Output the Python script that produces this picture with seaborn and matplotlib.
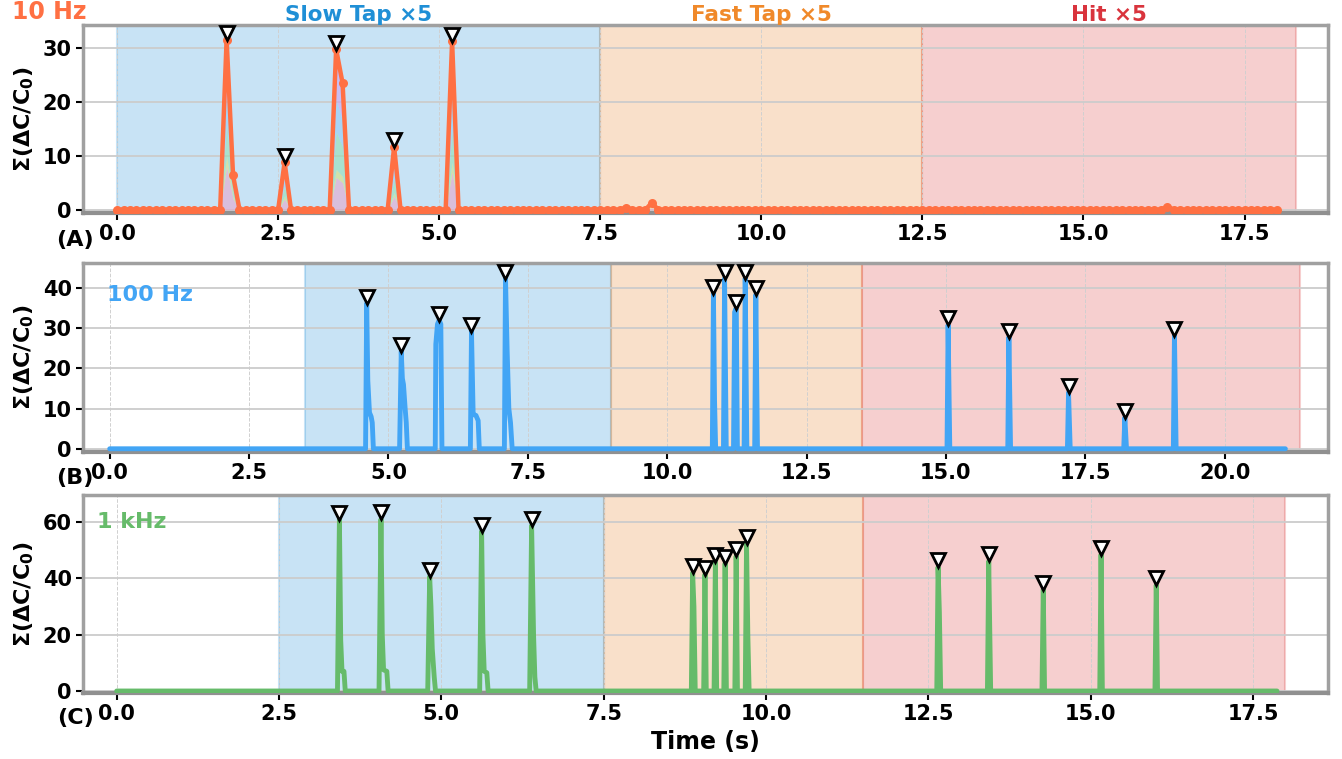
import numpy as np
import pandas as pd
import matplotlib
matplotlib.use("Agg")
import matplotlib.pyplot as plt
import seaborn as sns

# ---- data ----
# panel A : 10 Hz, one sample every 0.1 s, only the non-zero samples listed
a_end = 18.0
a_nz_t = [1.7, 1.8, 2.6, 3.4, 3.5, 4.3, 5.2, 7.9, 8.3, 16.3]
a_ch1 = [8.0, 2.0, 2.0, 6.0, 5.0, 2.5, 7.0, 0.10, 0.40, 0.2]
a_ch2 = [2.0, 0.5, 0.6, 1.5, 1.2, 0.7, 1.8, 0.10, 0.30, 0.1]
a_ch3 = [6.0, 1.5, 1.8, 7.0, 5.5, 2.5, 6.0, 0.10, 0.30, 0.1]
a_ch4 = [6.0, 1.2, 2.0, 6.0, 4.8, 2.8, 7.0, 0.05, 0.15, 0.1]
a_ch5 = [9.6, 1.2, 2.4, 9.3, 7.0, 3.2, 9.5, 0.05, 0.15, 0.1]
a_peak_t = [1.7, 2.6, 3.4, 4.3, 5.2]

# panel B : 100 Hz, line vertices
b_time = [0.0,
          4.59, 4.61, 4.63, 4.66, 4.69, 4.71, 4.73,
          5.20, 5.23, 5.25, 5.27, 5.30, 5.32, 5.34,
          5.84, 5.85, 5.88, 5.91, 5.94, 5.96,
          6.47, 6.49, 6.52, 6.57, 6.61, 6.63,
          7.08, 7.10, 7.13, 7.16, 7.19, 7.22,
          10.81, 10.83, 10.85, 10.87,
          11.01, 11.03, 11.06,
          11.19, 11.21, 11.24, 11.26,
          11.38, 11.40, 11.43,
          11.57, 11.59, 11.62,
          15.02, 15.04, 15.07,
          16.11, 16.13, 16.16,
          17.18, 17.20, 17.23,
          18.19, 18.21, 18.24,
          19.08, 19.10, 19.13,
          21.09]
b_sum = [0,
         0, 36.2, 17.0, 9.0, 8.0, 6.5, 0,
         0, 24.2, 17.5, 16.0, 10.0, 6.5, 0,
         0, 26.0, 31.0, 32.0, 31.0, 0,
         0, 29.1, 8.5, 8.3, 7.0, 0,
         0, 42.4, 24.2, 10.0, 6.5, 0,
         0, 38.7, 12.0, 0,
         0, 42.4, 0,
         0, 34.0, 35.0, 0,
         0, 42.4, 0,
         0, 38.3, 0,
         0, 30.8, 0,
         0, 27.8, 0,
         0, 14.0, 0,
         0, 7.8, 0,
         0, 28.3, 0,
         0]
b_peak_t = [4.61, 5.23, 5.91, 6.49, 7.10, 10.83, 11.03, 11.24, 11.40, 11.59,
            15.04, 16.13, 17.20, 18.21, 19.10]
b_peak_y = [36.2, 24.2, 32.0, 29.1, 42.4, 38.7, 42.4, 35.0, 42.4, 38.3,
            30.8, 27.8, 14.0, 7.8, 28.3]

# panel C : 1 kHz, line vertices
c_time = [0.0,
          3.40, 3.43, 3.45, 3.47, 3.50, 3.52,
          4.04, 4.07, 4.09, 4.11, 4.16, 4.18,
          4.79, 4.82, 4.84, 4.86, 4.89, 4.91,
          5.59, 5.62, 5.64, 5.66, 5.70, 5.72,
          6.36, 6.39, 6.42, 6.44, 6.46,
          8.85, 8.87, 8.89, 8.91,
          9.04, 9.06, 9.08,
          9.20, 9.22, 9.24,
          9.35, 9.37, 9.39,
          9.52, 9.54, 9.56,
          9.68, 9.70, 9.72, 9.74,
          12.63, 12.65, 12.67, 12.69,
          13.41, 13.43, 13.46,
          14.25, 14.27, 14.29,
          15.14, 15.16, 15.18,
          15.99, 16.01, 16.03,
          17.87]
c_sum = [0,
         0, 60.8, 18.0, 7.0, 7.0, 0,
         0, 61.0, 20.0, 7.5, 7.0, 0,
         0, 40.6, 30.0, 15.0, 5.0, 0,
         0, 56.7, 20.0, 7.0, 6.5, 0,
         0, 58.7, 20.0, 5.0, 0,
         0, 42.0, 30.0, 0,
         0, 41.4, 0,
         0, 45.8, 0,
         0, 45.3, 0,
         0, 47.9, 0,
         0, 52.4, 20.0, 0,
         0, 44.0, 28.0, 0,
         0, 46.1, 0,
         0, 36.1, 0,
         0, 48.5, 0,
         0, 37.6, 0,
         0]
c_peak_t = [3.43, 4.07, 4.82, 5.62, 6.39, 8.87, 9.06, 9.22, 9.37, 9.54, 9.70,
            12.65, 13.43, 14.27, 15.16, 16.01]
c_peak_y = [60.8, 61.0, 40.6, 56.7, 58.7, 42.0, 41.4, 45.8, 45.3, 47.9, 52.4,
            44.0, 46.1, 36.1, 48.5, 37.6]

# gesture windows (start, end) per panel
spans_a = [(0.0, 7.5), (7.5, 12.5), (12.5, 18.3)]
spans_b = [(3.5, 9.0), (9.0, 13.5), (13.5, 21.35)]
spans_c = [(2.5, 7.5), (7.5, 11.5), (11.5, 18.0)]
span_names = ["Slow Tap ×5", "Fast Tap ×5", "Hit ×5"]
span_colors = ["#3498db", "#e67e22", "#d62728"]
span_alpha = [0.27, 0.24, 0.22]
span_text_colors = ["#1f8fd6", "#f0892a", "#d9343d"]

# ---- build panel A samples ----
a_time = np.round(np.arange(0, a_end + 0.05, 0.1), 1)
chans = []
for ch in [a_ch1, a_ch2, a_ch3, a_ch4, a_ch5]:
    s = pd.Series(0.0, index=a_time)
    s.loc[a_nz_t] = ch
    chans.append(s.values)
a_sum = np.sum(chans, axis=0)
a_peak_y = [a_sum[np.argmin(abs(a_time - t))] for t in a_peak_t]

sns.set_style("white")
plt.rcParams["font.family"] = ["DejaVu Sans"]
plt.rcParams["font.weight"] = "bold"
plt.rcParams["axes.labelweight"] = "bold"
plt.rcParams["mathtext.default"] = "bf"
plt.rcParams["text.color"] = "black"
plt.rcParams["axes.labelcolor"] = "black"
plt.rcParams["xtick.color"] = "black"
plt.rcParams["ytick.color"] = "black"

fig = plt.figure(figsize=(13.42, 7.59), dpi=100)
ax_a = fig.add_axes([0.0618, 0.7194, 0.928, 0.2477])
ax_b = fig.add_axes([0.0618, 0.4045, 0.928, 0.2490])
ax_c = fig.add_axes([0.0618, 0.0870, 0.928, 0.2608])


def style_axes(ax, spans, xlim, ylim, yticks, xticks):
    for (x0, x1), col, al in zip(spans, span_colors, span_alpha):
        ax.axvspan(x0, x1, color=col, alpha=al, lw=1.5, zorder=0.2)
    ax.set_xlim(*xlim)
    ax.set_ylim(*ylim)
    ax.set_yticks(yticks)
    ax.set_xticks(xticks)
    ax.yaxis.grid(True, color="#cccccc", lw=1.3, zorder=0.5)
    ax.xaxis.grid(True, color="#d0d0d0", lw=0.7, ls="--", zorder=0.5)
    ax.tick_params(axis="both", direction="out", length=5, width=1.5,
                   color="black", labelsize=15, bottom=True, left=True, pad=3)
    for s in ax.spines.values():
        s.set_color("#a0a0a0")
        s.set_linewidth(2.5)
    ax.spines["bottom"].set_color("#909090")
    ax.spines["bottom"].set_linewidth(3)
    ax.set_ylabel("Σ(ΔC/C$_0$)", fontsize=16, fontweight="bold", labelpad=5)
    ax.set_xlabel("")


# panel A
style_axes(ax_a, spans_a, (-0.53, 18.8), (-0.6, 34.3), [0, 10, 20, 30],
           np.arange(0, 17.6, 2.5))
ax_a.stackplot(a_time, *chans,
               colors=["#e8a0c8", "#d8e070", "#8fe0b0", "#8cc8f8", "#c8a0f4"],
               alpha=0.55, lw=0, zorder=2)
sns.lineplot(x=a_time, y=a_sum, ax=ax_a, color="#FF7043", lw=3.2, marker="o",
             markersize=6.5, markeredgewidth=0, zorder=3)
ax_a.plot(a_peak_t, np.array(a_peak_y) + 1.2, "v", ms=9.5, mfc="white",
          mec="black", mew=2, zorder=5)
for (x0, x1), name, tc in zip(spans_a, span_names, span_text_colors):
    ax_a.text((x0 + x1) / 2, 1.0, name, transform=ax_a.get_xaxis_transform(),
              ha="center", va="bottom", fontsize=15.5, fontweight="bold",
              color=tc)
fig.text(0.009, 0.984, "10 Hz", fontsize=17, fontweight="bold",
         color="#FF7043", ha="left", va="center")

# panel B
style_axes(ax_b, spans_b, (-0.48, 21.86), (-0.8, 46.2), [0, 10, 20, 30, 40],
           np.arange(0, 20.1, 2.5))
sns.lineplot(x=b_time, y=b_sum, ax=ax_b, color="#42A5F5", lw=3.5,
             estimator=None, sort=False, zorder=3)
ax_b.plot(b_peak_t, np.array(b_peak_y) + 1.6, "v", ms=9.5, mfc="white",
          mec="black", mew=2, zorder=5)
ax_b.text(0.019, 0.83, "100 Hz", transform=ax_b.transAxes, fontsize=16,
          fontweight="bold", color="#42A5F5", ha="left", va="center")

# panel C
style_axes(ax_c, spans_c, (-0.52, 18.66), (-0.7, 69.6), [0, 20, 40, 60],
           np.arange(0, 17.6, 2.5))
sns.lineplot(x=c_time, y=c_sum, ax=ax_c, color="#66BB6A", lw=3.5,
             estimator=None, sort=False, zorder=3)
ax_c.plot(c_peak_t, np.array(c_peak_y) + 2.4, "v", ms=9.5, mfc="white",
          mec="black", mew=2, zorder=5)
ax_c.text(0.011, 0.864, "1 kHz", transform=ax_c.transAxes, fontsize=16,
          fontweight="bold", color="#66BB6A", ha="left", va="center")
ax_c.set_xlabel("Time (s)", fontsize=17, fontweight="bold", labelpad=4)

for lab, y in zip(["(A)", "(B)", "(C)"], [0.684, 0.370, 0.054]):
    fig.text(0.056, y, lab, fontsize=16, fontweight="bold", ha="center",
             va="center")

fig.savefig("out.png", dpi=100)
